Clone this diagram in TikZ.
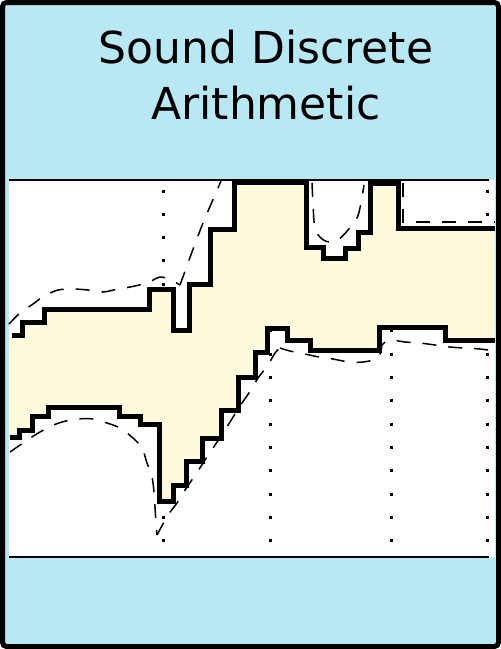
\documentclass[tikz,border=0pt]{standalone}
\usepackage{fontspec}
\setmainfont{DejaVu Sans}
\definecolor{panelblue}{RGB}{184,232,244}
\definecolor{bandyellow}{RGB}{255,250,220}
% the two staircase bounds
\def\topstair{(12,335) -- (22,335) -- (22,322) -- (44,322) -- (44,309) -- (149,309) -- (149,289) -- (173,289) -- (173,330) -- (189,330) -- (189,284) -- (210,284) -- (210,229) -- (234,229) -- (234,182) -- (306,182) -- (306,247) -- (323,247) -- (323,258) -- (345,258) -- (345,248) -- (358,248) -- (358,232) -- (370,232) -- (370,183) -- (398,183) -- (398,228) -- (495,228)}
\def\bottomstair{(10,437) -- (19,437) -- (19,430) -- (32,430) -- (32,416) -- (48,416) -- (48,407) -- (119,407) -- (119,416) -- (140,416) -- (140,424) -- (159,424) -- (159,501) -- (173,501) -- (173,485) -- (186,485) -- (186,461) -- (202,461) -- (202,438) -- (221,438) -- (221,410) -- (238,410) -- (238,377) -- (255,377) -- (255,352) -- (267,352) -- (267,328) -- (287,328) -- (287,340) -- (310,340) -- (310,350) -- (379,350) -- (379,327) -- (445,327) -- (445,340) -- (495,340)}
\tikzset{
  stepline/.style={line width=5pt, line join=miter},
  estimate/.style={line width=1.5pt, dash pattern=on 14pt off 12pt},
  gridcol/.style={line width=3pt, dash pattern=on 3pt off 20.33pt},
  rule/.style={line width=2pt},
}
\begin{document}
\begin{tikzpicture}[x=1pt, y=-1pt]
  \useasboundingbox (0,0) rectangle (501,649);
  \fill[panelblue, rounded corners=4pt] (2,2) rectangle (499,647);
  \fill[white] (9,180) rectangle (495,557);
  % dotted columns
  \foreach \xc in {163,270,391,487}
    \draw[gridcol] (\xc,189.5) -- (\xc,545);
  % band between the bounds
  \begin{scope}
    \clip \topstair -- (495,557) -- (9,557) -- (9,335) -- cycle;
    \fill[bandyellow] \bottomstair -- (495,180) -- (9,180) -- (9,437) -- cycle;
  \end{scope}
  % exact curves
  \draw[estimate] plot[smooth, tension=0.5] coordinates {(9,324) (20,313) (33,304) (44,296) (58,290) (73,289) (88,290) (103,292) (118,289) (130,287) (147,283) (160,277) (171,280)
    (180,285)};
  \draw[estimate] plot[smooth, tension=0.5] coordinates {(180,285) (184,274) (192,252) (203,223) (215,195) (221,181)};
  \draw[estimate] plot[smooth, tension=0.6] coordinates {(312,183) (313,203) (315,228) (322,239) (330,242) (338,240) (348,230) (357,218) (361,203) (364,185)};
  \draw[estimate] (403,183) -- (403,222) -- (495,222);
  \draw[estimate] plot[smooth, tension=0.5] coordinates {(10,452) (23,443) (35,435) (49,427) (62,422) (77,419) (93,419) (107,423) (120,428) (133,438) (142,448) (147,463) (152,477) (154,492) (155,507) (156,523) (157,535)};
  \draw[estimate] plot[smooth, tension=0.4] coordinates {(157,535) (168,515) (177,503) (187,487) (196,474) (205,460) (213,448) (225,430) (240,406) (251,390) (258,378) (268,365) (275,353) (280,348)};
  \draw[estimate] plot[smooth, tension=0.5] coordinates {(280,348) (290,351) (305,354) (319,357) (333,359) (349,362) (363,362) (376,359) (381,352) (382,345) (390,340) (405,342) (420,343) (435,345) (450,347) (463,348) (480,349) (495,351)};
  % staircase bounds
  \draw[stepline] \topstair;
  \draw[stepline] \bottomstair;
  \draw[rule] (9,180) -- (489,180);
  \draw[rule] (9,557) -- (489,557);
  \node[anchor=base, font=\fontsize{44}{53}\selectfont] (titletop) at (266,63) {Sound Discrete};
  \node[anchor=base, font=\fontsize{44}{53}\selectfont] (titlebottom) at (266,119) {Arithmetic};
  \draw[line width=5pt, rounded corners=4pt] (2.5,2.5) rectangle (498.5,646.5);
\end{tikzpicture}
\end{document}
